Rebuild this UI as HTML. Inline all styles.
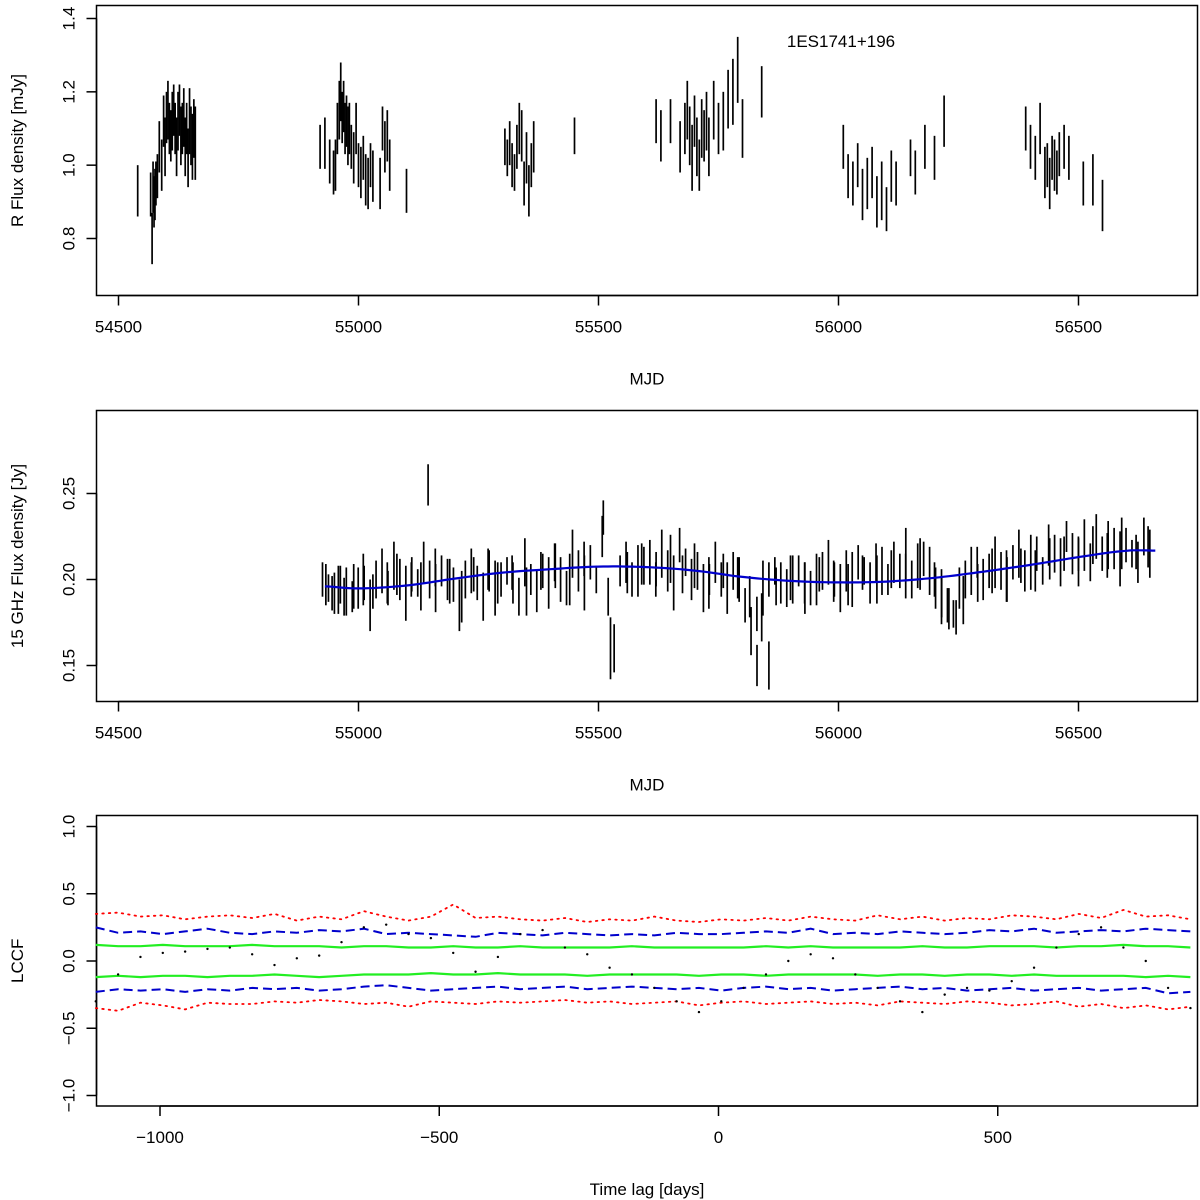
<!DOCTYPE html>
<html><head><meta charset="utf-8"><style>
html,body{margin:0;padding:0;background:#fff}
svg{display:block;font-family:"Liberation Sans",Arial,sans-serif}
</style></head><body>
<svg id="chart" width="1200" height="1200" viewBox="0 0 1200 1200" xmlns="http://www.w3.org/2000/svg"></svg>
<script>
// ---------- Panel 1 data (R band) ----------
const mjd1 = [54540,54567,54570,54572,54574,54576,54578,54581,54585,54590,54594,54597,54600,54603,54606,54609,54612,54615,54618,54621,54624,54627,54630,54633,54636,54639,54642,54645,54648,54651,54654,54657,54660,
 54920,54930,54940,54948,54952,54956,54960,54963,54966,54969,54972,54975,54978,54981,54985,54990,54995,55000,55005,55010,55015,55020,55025,55030,55045,55050,55055,55060,55065,55100,
 55305,55310,55315,55320,55325,55330,55335,55340,55345,55350,55355,55360,55365,55450,
 55620,55630,55650,55670,55680,55685,55690,55695,55700,55705,55710,55715,55720,55725,55730,55740,55750,55760,55770,55780,55790,55800,55840,
 56010,56020,56030,56040,56050,56060,56070,56080,56090,56100,56110,56120,56150,56160,56180,56200,56220,
 56390,56400,56410,56420,56430,56435,56440,56445,56450,56455,56460,56470,56480,56510,56530,56550];
const flux1 = [0.93,0.92,0.80,0.94,0.90,0.92,0.95,0.97,1.05,1.00,1.12,1.05,1.13,1.15,1.10,1.08,1.12,1.15,1.10,1.05,1.12,1.15,1.08,1.10,1.13,1.05,1.10,1.02,1.12,1.08,1.05,1.10,1.06,
 1.05,1.06,1.01,0.98,1.00,1.10,1.15,1.20,1.13,1.16,1.10,1.12,1.08,1.10,1.05,1.02,1.10,1.00,0.98,1.02,0.96,0.95,1.00,0.97,0.95,1.10,1.05,1.08,1.00,0.93,
 1.05,1.02,1.06,1.00,0.98,1.05,1.10,1.08,0.95,1.02,0.93,1.00,1.05,1.08,
 1.12,1.08,1.12,1.05,1.10,1.15,1.08,1.02,1.12,1.05,1.00,1.10,1.08,1.12,1.05,1.15,1.10,1.12,1.18,1.20,1.26,1.10,1.20,
 1.05,0.97,0.95,1.00,0.92,0.95,0.98,0.90,0.93,0.88,0.97,0.95,1.02,0.98,1.05,1.02,1.12,
 1.10,1.05,1.02,1.10,0.98,1.00,0.95,1.02,1.00,0.98,1.03,1.05,1.02,0.95,0.96,0.89];
const err1 = [0.07,0.06,0.07,0.07,0.07,0.07,0.06,0.06,0.07,0.07,0.07,0.08,0.07,0.08,0.07,0.07,0.08,0.07,0.07,0.08,0.08,0.07,0.08,0.07,0.08,0.08,0.07,0.08,0.09,0.08,0.09,0.08,0.10,
 0.06,0.07,0.06,0.06,0.07,0.07,0.08,0.08,0.07,0.07,0.07,0.07,0.08,0.07,0.06,0.07,0.07,0.06,0.07,0.06,0.07,0.07,0.06,0.07,0.07,0.06,0.07,0.07,0.07,0.06,
 0.05,0.05,0.06,0.06,0.05,0.06,0.07,0.07,0.06,0.07,0.07,0.06,0.07,0.05,
 0.06,0.07,0.06,0.07,0.07,0.08,0.08,0.09,0.07,0.08,0.07,0.08,0.07,0.08,0.08,0.08,0.07,0.08,0.08,0.09,0.09,0.08,0.07,
 0.06,0.06,0.06,0.06,0.07,0.07,0.07,0.07,0.08,0.06,0.07,0.06,0.05,0.06,0.06,0.06,0.07,
 0.06,0.06,0.06,0.07,0.07,0.06,0.07,0.06,0.07,0.06,0.06,0.06,0.06,0.06,0.07,0.07];
const ticks1x = [54500,55000,55500,56000,56500];
const ticks1y = [0.8,1.0,1.2,1.4];

// ---------- Panel 2 data (15 GHz) ----------
const mjd2 = [];
const flux2 = [0.200,0.195,0.192,0.197,0.193,0.190,0.195,
 0.198,0.185,0.200,0.205,0.195,0.208,0.200,0.192,
 0.203,0.198,0.210,0.200,0.195,0.205,0.200,0.197,
 0.185,0.200,0.205,0.198,0.190,0.205,0.195,0.200,
 0.205,0.198,0.190,0.210,0.200,0.193,0.205,0.198,
 0.210,0.200,0.195,0.215,0.205,0.198,0.210,0.200,
 0.225,0.190,0.160,0.205,0.210,0.200,0.205,0.208,
 0.210,0.200,0.215,0.205,0.198,0.220,0.210,0.200,
 0.205,0.195,0.200,0.210,0.200,0.195,0.205,0.200,
 0.185,0.170,0.150,0.195,0.200,0.205,0.198,0.195,
 0.200,0.205,0.198,0.195,0.200,0.205,0.210,0.200,
 0.195,0.205,0.200,0.210,0.205,0.198,0.210,0.205,
 0.200,0.210,0.205,0.215,0.200,0.208,0.212,0.205,
 0.195,0.190,0.185,0.180,0.195,0.200,0.205,0.210,
 0.200,0.205,0.210,0.205,0.200,0.210,0.215,0.205,
 0.210,0.215,0.205,0.220,0.215,0.210,0.225,0.215,
 0.215,0.220,0.210,0.225,0.215,0.220,0.218,0.212,
 0.220,0.215,0.210,0.225,0.215];
const err2 = [0.010,0.008,0.012,0.011,0.014,0.009,0.012,0.010,0.015,0.011,0.013,0.010,0.014,0.012,0.016];
for (let i = 0; i < flux2.length; i++) mjd2.push(54925 + i * 12.4);
const mjd2b = [54932,54945,54958,54970,54990,55010,55030,55060,55080,55110,55130,55160,55190,55215,55240,55270,55290,55320,55350,55380,55410,55440,55470,55560,55590,55620,55650,55675,55700,55730,55760,55790,55815,55830,55840,55870,55900,55930,55960,55990,56020,56050,56080,56110,56140,56170,56200,56215,56230,56245,56260,56290,56320,56350,56380,56410,56440,56470,56500,56530,56560,56590,56620,56645];
const flux2b = [0.197,0.192,0.194,0.190,0.196,0.200,0.193,0.198,0.203,0.200,0.196,0.207,0.199,0.190,0.203,0.206,0.198,0.204,0.193,0.205,0.208,0.200,0.212,0.204,0.209,0.206,0.212,0.203,0.208,0.198,0.205,0.201,0.190,0.180,0.178,0.196,0.201,0.195,0.203,0.199,0.197,0.204,0.200,0.206,0.202,0.209,0.200,0.190,0.183,0.178,0.188,0.198,0.205,0.202,0.208,0.205,0.212,0.215,0.210,0.220,0.214,0.221,0.216,0.219];
const err2b = [0.012,0.010,0.014,0.011,0.013,0.015,0.010,0.012];
const spikeMjd = [55145, 55510, 55525, 55855];
const spikeFlux = [0.255, 0.236, 0.160, 0.150];
const spikeErr = [0.012, 0.010, 0.018, 0.014];
const smoothMjd = [54930,55000,55100,55200,55300,55400,55500,55600,55700,55800,55900,56000,56100,56200,56300,56400,56500,56600,56660];
const smoothFlux = [0.196,0.1948,0.1965,0.2005,0.204,0.206,0.2075,0.2072,0.2052,0.2015,0.1992,0.1983,0.1988,0.201,0.2045,0.2085,0.213,0.2167,0.2168];
const ticks2y = [0.15,0.20,0.25];

// ---------- Panel 3 data (LCCF) ----------
const lags = [];
for (let i = 0; i < 50; i++) lags.push(-1115 + i * 40);
const redUp = [0.35,0.36,0.33,0.34,0.31,0.33,0.34,0.32,0.35,0.30,0.33,0.31,0.37,0.33,0.30,0.33,0.42,0.32,0.33,0.31,0.30,0.32,0.29,0.31,0.30,0.33,0.30,0.29,0.31,0.30,0.32,0.30,0.33,0.31,0.30,0.34,0.31,0.33,0.30,0.32,0.31,0.34,0.33,0.31,0.35,0.32,0.38,0.33,0.34,0.31];
const blueUp = [0.25,0.21,0.22,0.20,0.22,0.24,0.21,0.20,0.22,0.21,0.23,0.22,0.24,0.20,0.21,0.20,0.19,0.18,0.21,0.20,0.19,0.21,0.20,0.19,0.20,0.19,0.21,0.20,0.20,0.21,0.22,0.21,0.24,0.20,0.21,0.20,0.22,0.21,0.20,0.21,0.23,0.22,0.24,0.21,0.22,0.23,0.22,0.24,0.23,0.22];
const greenUp = [0.12,0.11,0.11,0.12,0.11,0.11,0.11,0.12,0.11,0.11,0.11,0.10,0.11,0.11,0.10,0.10,0.11,0.10,0.10,0.11,0.10,0.10,0.10,0.10,0.11,0.10,0.10,0.10,0.10,0.10,0.11,0.10,0.11,0.10,0.10,0.10,0.10,0.11,0.10,0.10,0.11,0.11,0.11,0.10,0.11,0.11,0.12,0.11,0.11,0.10];
const greenLo = [-0.12,-0.11,-0.12,-0.11,-0.11,-0.12,-0.11,-0.11,-0.10,-0.11,-0.12,-0.11,-0.10,-0.10,-0.10,-0.09,-0.10,-0.10,-0.09,-0.10,-0.10,-0.10,-0.11,-0.10,-0.10,-0.10,-0.10,-0.11,-0.10,-0.10,-0.11,-0.10,-0.10,-0.10,-0.10,-0.11,-0.10,-0.10,-0.11,-0.10,-0.10,-0.11,-0.10,-0.11,-0.11,-0.11,-0.11,-0.12,-0.11,-0.12];
const blueLo = [-0.23,-0.21,-0.22,-0.21,-0.23,-0.21,-0.22,-0.20,-0.21,-0.20,-0.22,-0.21,-0.19,-0.18,-0.20,-0.22,-0.21,-0.20,-0.19,-0.21,-0.20,-0.19,-0.21,-0.20,-0.19,-0.20,-0.21,-0.20,-0.22,-0.20,-0.19,-0.21,-0.20,-0.22,-0.21,-0.20,-0.19,-0.21,-0.20,-0.22,-0.21,-0.20,-0.22,-0.21,-0.20,-0.22,-0.21,-0.20,-0.24,-0.23];
const redLo = [-0.35,-0.37,-0.31,-0.33,-0.36,-0.31,-0.32,-0.32,-0.30,-0.31,-0.29,-0.30,-0.32,-0.31,-0.34,-0.30,-0.31,-0.32,-0.30,-0.31,-0.30,-0.29,-0.31,-0.30,-0.32,-0.31,-0.30,-0.33,-0.31,-0.30,-0.32,-0.31,-0.30,-0.32,-0.31,-0.33,-0.30,-0.31,-0.32,-0.30,-0.31,-0.33,-0.32,-0.30,-0.34,-0.32,-0.35,-0.33,-0.36,-0.34];
const lccf = [-0.30,-0.10,0.03,0.06,0.07,0.09,0.10,0.05,-0.03,0.02,0.04,0.14,0.25,0.27,0.20,0.17,0.06,-0.08,0.03,0.20,0.23,0.10,0.05,-0.05,-0.10,-0.20,-0.30,-0.38,-0.30,-0.20,-0.10,0.00,0.05,0.02,-0.10,-0.20,-0.30,-0.38,-0.25,-0.20,-0.22,-0.15,-0.05,0.10,0.20,0.25,0.10,0.00,-0.20,-0.35];
const ticks3x = [-1000,-500,0,500];
const ticks3y = [-1.0,-0.5,0.0,0.5,1.0];

// ---------- helpers ----------
const svg = document.getElementById('chart');
const NS = 'http://www.w3.org/2000/svg';
function mk(tag, attrs, parent) {
  const e = document.createElementNS(NS, tag);
  for (const k in attrs) e.setAttribute(k, attrs[k]);
  (parent || svg).appendChild(e);
  return e;
}
function lin(d0, d1, r0, r1) { return v => r0 + (v - d0) * (r1 - r0) / (d1 - d0); }
const L = 96.5, R = 1197.5;
const xM = lin(54500, 55000, 118.5, 358.5);
const y1 = lin(0.8, 1.4, 238.5, 18.5);
const y2 = lin(0.15, 0.25, 665.5, 493.5);
const xL = lin(-1000, 0, 160, 718.5);
const y3 = lin(-1, 1, 1095.5, 826.5);

function frame(name, top, bottom, xticks, xs, yticks, ys, xlab, ylab, yfmt) {
  const g = mk('g', {});
  
  
  const box = mk('rect', {x: L, y: top, width: R - L, height: bottom - top, fill: 'none', stroke: '#000', 'stroke-width': 1.5}, g);
  
  
  const xa = mk('g', {}, g);
  
  
  mk('line', {x1: xs(xticks[0]), x2: xs(xticks[xticks.length - 1]), y1: bottom, y2: bottom, stroke: '#000', 'stroke-width': 1.5}, xa);
  xticks.forEach(t => {
    mk('line', {x1: xs(t), x2: xs(t), y1: bottom, y2: bottom + 10, stroke: '#000', 'stroke-width': 1.5}, xa);
    const tx = mk('text', {x: xs(t), y: bottom + 37, 'text-anchor': 'middle', 'font-size': 17}, xa);
    tx.textContent = String(t).replace('-', '\u2212');
    
    
  });
  const ya = mk('g', {}, g);
  
  
  yticks.forEach(t => {
    mk('line', {x1: L - 10, x2: L, y1: ys(t), y2: ys(t), stroke: '#000', 'stroke-width': 1.5}, ya);
    const tx = mk('text', {x: 0, y: 0, 'text-anchor': 'middle', 'font-size': 17, transform: `translate(${L - 22},${ys(t)}) rotate(-90)`}, ya);
    tx.textContent = yfmt(t).replace('-', '\u2212');
    
    
  });
  mk('line', {x1: L, x2: L, y1: ys(yticks[0]), y2: ys(yticks[yticks.length - 1]), stroke: '#000', 'stroke-width': 1.5}, ya);
  const xt = mk('text', {x: (L + R) / 2, y: bottom + 89, 'text-anchor': 'middle', 'font-size': 17}, g);
  xt.textContent = xlab;
  
  
  const yt = mk('text', {x: 0, y: 0, 'text-anchor': 'middle', 'font-size': 17, transform: `translate(23,${(top + bottom) / 2}) rotate(-90)`}, g);
  yt.textContent = ylab;
  
  
}
function errbars(name, xs, ys, xv, fv, ev) {
  const g = mk('g', {stroke: '#000', 'stroke-width': 1.7});
  
  
  xv.forEach((x, i) => {
    const e = ev[i % ev.length];
    const ln = mk('line', {x1: xs(x), x2: xs(x), y1: ys(fv[i] - e), y2: ys(fv[i] + e)}, g);
    
    
  });
}
function curve(name, xs, ys, xv, yv, stroke, width, dash) {
  const d = xv.map((x, i) => (i ? 'L' : 'M') + xs(x).toFixed(1) + ',' + ys(yv[i]).toFixed(1)).join('');
  const p = mk('path', {d: d, fill: 'none', stroke: stroke, 'stroke-width': width, 'stroke-dasharray': dash || 'none', 'stroke-linecap': dash && dash.startsWith('1.') ? 'round' : 'butt'});
  
  
}

// Panel 1
frame('optical-panel', 5.5, 295.5, ticks1x, xM, ticks1y, y1, 'MJD', 'R Flux density [mJy]', t => t.toFixed(1));
errbars('optical-error-bars', xM, y1, mjd1, flux1, err1);
const title = mk('text', {x: 841, y: 47, 'text-anchor': 'middle', 'font-size': 17});
title.textContent = '1ES1741+196';



// Panel 2
frame('radio-panel', 410.5, 701.5, ticks1x, xM, ticks2y, y2, 'MJD', '15 GHz Flux density [Jy]', t => t.toFixed(2));
errbars('radio-error-bars', xM, y2, mjd2, flux2, err2);
errbars('radio-error-bars-b', xM, y2, mjd2b, flux2b, err2b);
errbars('radio-outliers', xM, y2, spikeMjd, spikeFlux, spikeErr);
(function () {
  const xs = [], ys = [];
  for (let i = 0; i < smoothMjd.length - 1; i++) {
    const p0 = smoothFlux[Math.max(i - 1, 0)], p1 = smoothFlux[i], p2 = smoothFlux[i + 1], p3 = smoothFlux[Math.min(i + 2, smoothFlux.length - 1)];
    for (let s = 0; s < 10; s++) {
      const t = s / 10;
      xs.push(smoothMjd[i] + (smoothMjd[i + 1] - smoothMjd[i]) * t);
      ys.push(0.5 * ((2 * p1) + (-p0 + p2) * t + (2 * p0 - 5 * p1 + 4 * p2 - p3) * t * t + (-p0 + 3 * p1 - 3 * p2 + p3) * t * t * t));
    }
  }
  xs.push(smoothMjd[smoothMjd.length - 1]); ys.push(smoothFlux[smoothFlux.length - 1]);
  curve('radio-smooth-fit', xM, y2, xs, ys, '#0000cc', 2.2);
})();

// Panel 3
frame('lccf-panel', 815.5, 1106, ticks3x, xL, ticks3y, y3, 'Time lag [days]', 'LCCF', t => t.toFixed(1));
curve('red-upper-99', xL, y3, lags, redUp, '#ff0000', 1.8, '1.5 5');
curve('red-lower-99', xL, y3, lags, redLo, '#ff0000', 1.8, '1.5 5');
curve('blue-upper-95', xL, y3, lags, blueUp, '#0000cc', 2, '9 5');
curve('blue-lower-95', xL, y3, lags, blueLo, '#0000cc', 2, '9 5');
curve('green-upper-68', xL, y3, lags, greenUp, '#22ee22', 2.2);
curve('green-lower-68', xL, y3, lags, greenLo, '#22ee22', 2.2);
const dots = mk('g', {fill: '#000'});


lags.forEach((lag, i) => {
  const c = mk('circle', {cx: xL(lag), cy: y3(lccf[i]), r: 1.2}, dots);
  
  
});
</script>
</body></html>
